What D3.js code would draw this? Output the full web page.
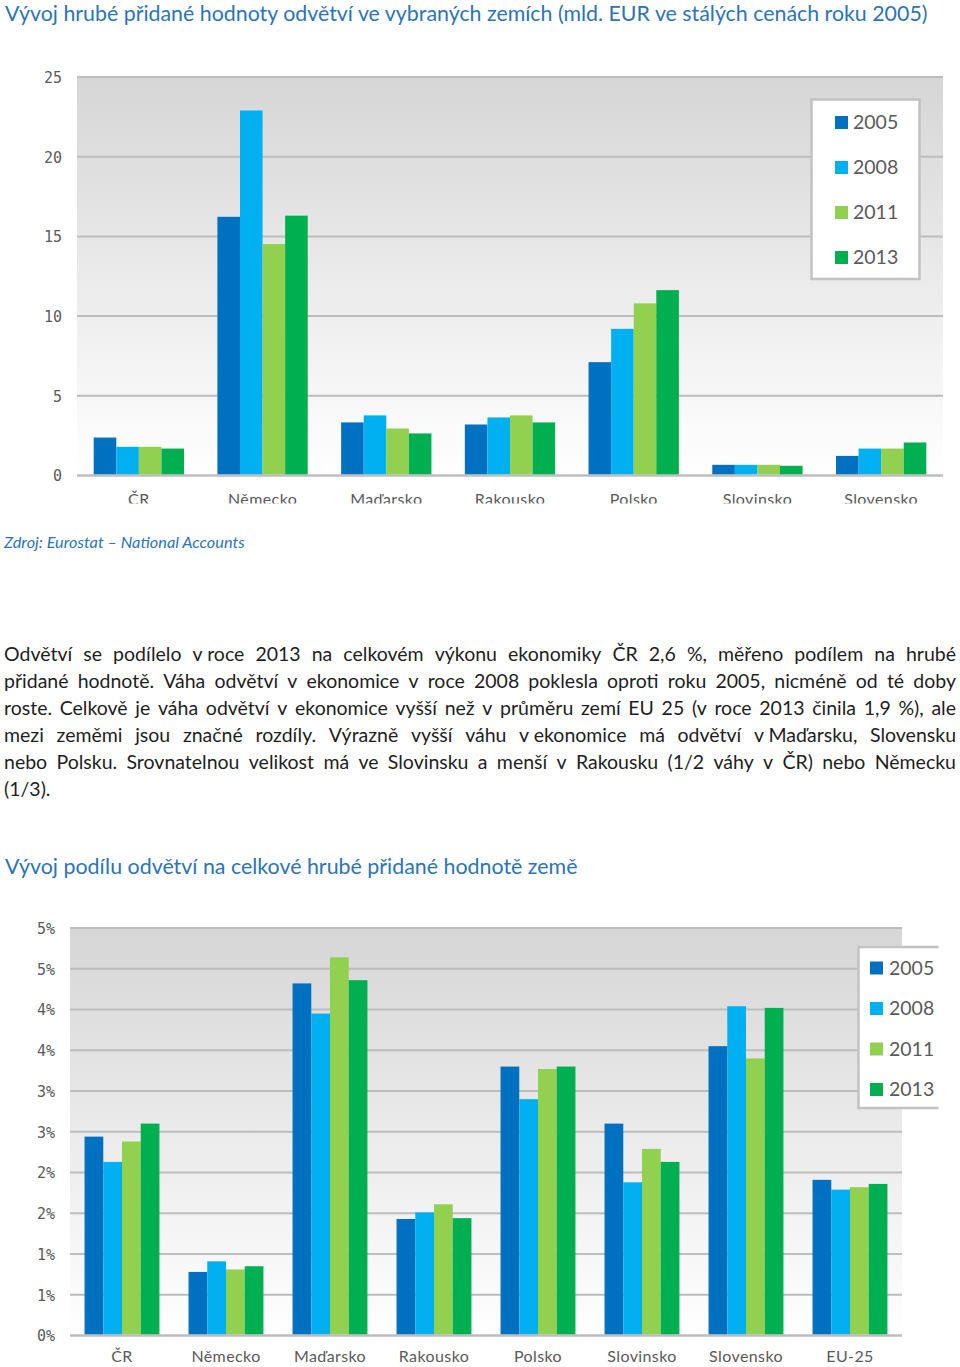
<!DOCTYPE html>
<html><head><meta charset="utf-8">
<script src="https://cdn.jsdelivr.net/npm/d3@7"></script>
<style>body{margin:0;background:#fff}svg{display:block}</style>
</head><body>
<svg id="c" width="960" height="1367"></svg>
<script>
// ---------- DATA ----------
const years = ["2005", "2008", "2011", "2013"];
const yearColors = ["#0070c0", "#00b0f0", "#92d050", "#00b050"];

const countries1 = ["ČR", "Německo", "Maďarsko", "Rakousko", "Polsko", "Slovinsko", "Slovensko"];
const gva2005 = [2.38, 16.23, 3.33, 3.20, 7.11, 0.67, 1.23];
const gva2008 = [1.80, 22.90, 3.77, 3.64, 9.20, 0.67, 1.69];
const gva2011 = [1.80, 14.52, 2.95, 3.77, 10.80, 0.67, 1.69];
const gva2013 = [1.69, 16.30, 2.64, 3.33, 11.63, 0.61, 2.07];
const ticks1 = [0, 5, 10, 15, 20, 25];
const tickLabels1 = ["0", "5", "10", "15", "20", "25"];

const countries2 = ["ČR", "Německo", "Maďarsko", "Rakousko", "Polsko", "Slovinsko", "Slovensko", "EU-25"];
const share2005 = [2.44, 0.78, 4.32, 1.43, 3.30, 2.60, 3.55, 1.91];
const share2008 = [2.13, 0.91, 3.95, 1.51, 2.90, 1.88, 4.04, 1.79];
const share2011 = [2.38, 0.81, 4.64, 1.61, 3.27, 2.29, 3.40, 1.82];
const share2013 = [2.60, 0.85, 4.36, 1.44, 3.30, 2.13, 4.02, 1.86];
const ticks2 = [0, 0.5, 1, 1.5, 2, 2.5, 3, 3.5, 4, 4.5, 5];
const tickLabels2 = ["0%", "1%", "1%", "2%", "2%", "3%", "3%", "4%", "4%", "5%", "5%"];

const title1 = "Vývoj hrubé přidané hodnoty odvětví ve vybraných zemích (mld. EUR ve stálých cenách roku 2005)";
const sourceText = "Zdroj: Eurostat – National Accounts";
const title2 = "Vývoj podílu odvětví na celkové hrubé přidané hodnotě země";
const paraLines = [
  "Odvětví se podílelo v\u00a0roce 2013 na celkovém výkonu ekonomiky ČR 2,6 %, měřeno podílem na hrubé",
  "přidané hodnotě. Váha odvětví v ekonomice v roce 2008 poklesla oproti roku 2005, nicméně od té doby",
  "roste. Celkově je váha odvětví v ekonomice vyšší než v průměru zemí EU 25 (v roce 2013 činila 1,9 %), ale",
  "mezi zeměmi jsou značné rozdíly. Výrazně vyšší váhu v\u00a0ekonomice má odvětví v\u00a0Maďarsku, Slovensku",
  "nebo Polsku. Srovnatelnou velikost má ve Slovinsku a menší v Rakousku (1/2 váhy v ČR) nebo Německu",
  "(1/3)."
];

// ---------- DRAW ----------
const svg = d3.select("#c");
const defs = svg.append("defs");
const grad = defs.append("linearGradient").attr("id", "bg").attr("x1", 0).attr("y1", 0).attr("x2", 0).attr("y2", 1);
grad.append("stop").attr("offset", "0%").attr("stop-color", "#d6d6d6");
grad.append("stop").attr("offset", "100%").attr("stop-color", "#ffffff");

const blue = "#2b74b6";
const textFont = "Lato, 'Open Sans', sans-serif";

function fitX(sel, x, target) {
  const w = sel.node().getComputedTextLength();
  const s = target / w;
  sel.attr("transform", `translate(${x},0) scale(${s},1) translate(${-x},0)`);
}

function drawChart(cfg) {
  const g = svg.append("g");
  const clipId = "clip" + cfg.id;
  defs.append("clipPath").attr("id", clipId).append("rect")
    .attr("x", 0).attr("y", cfg.yTop - 30).attr("width", 960).attr("height", cfg.clipY - cfg.yTop + 30);
  const cg = g.append("g").attr("clip-path", `url(#${clipId})`);

  const y = d3.scaleLinear().domain([0, cfg.max]).range([cfg.yBase, cfg.yTop]);
  const x = d3.scaleBand().domain(cfg.cats).range([cfg.x0, cfg.x1]).paddingInner(cfg.padIn).paddingOuter(cfg.padOut);
  const xs = d3.scaleBand().domain(years).range([0, x.bandwidth()]).padding(0);

  cg.append("rect").attr("x", cfg.x0).attr("y", cfg.yTop).attr("width", cfg.x1 - cfg.x0)
    .attr("height", cfg.yBase - cfg.yTop).attr("fill", "url(#bg)");

  // grid
  cg.selectAll(".grid").data(cfg.ticks).join("line")
    .attr("x1", cfg.x0).attr("x2", cfg.x1)
    .attr("y1", d => y(d)).attr("y2", d => y(d))
    .attr("stroke", "#bdbdbd").attr("stroke-width", 2);

  // y tick labels
  const yAxis = d3.axisLeft(y).tickValues(cfg.ticks).tickSize(0).tickPadding(0)
    .tickFormat((d, i) => cfg.tickLabels[i]);
  const ya = cg.append("g").attr("transform", `translate(${cfg.labelX},0)`).call(yAxis);
  ya.select(".domain").remove();
  ya.selectAll("text").attr("font-family", "'DejaVu Sans Mono', monospace").attr("font-size", cfg.tickSize)
    .attr("fill", "#5a5a5a").attr("dy", "0.36em");

  // bars
  const groups = cg.selectAll(".grp").data(cfg.rows).join("g")
    .attr("transform", d => `translate(${x(d.c)},0)`);
  groups.selectAll("rect").data(d => d.vals.map((v, i) => ({ v, yr: years[i], i }))).join("rect")
    .attr("x", d => xs(d.yr)).attr("width", xs.bandwidth())
    .attr("y", d => y(d.v)).attr("height", d => y(0) - y(d.v) - 1)
    .attr("fill", d => yearColors[d.i]);

  // baseline
  cg.append("line").attr("x1", cfg.x0).attr("x2", cfg.x1).attr("y1", y(0)).attr("y2", y(0))
    .attr("stroke", "#bdbdbd").attr("stroke-width", 2);

  // x labels
  const xAxis = d3.axisBottom(x).tickSize(0).tickPadding(0);
  const xa = cg.append("g").attr("transform", `translate(0,${cfg.xLabelBase})`).call(xAxis);
  xa.select(".domain").remove();
  xa.selectAll("text").attr("font-family", textFont).attr("font-size", 16).attr("fill", "#5a5a5a")
    .attr("letter-spacing", 0.4).attr("y", 0).attr("dy", 0);

  // legend
  const L = cfg.legend;
  const lg = g.append("g");
  lg.append("rect").attr("x", L.x).attr("y", L.y).attr("width", L.w).attr("height", L.h).attr("fill", "#fff");
  if (L.openRight) {
    lg.append("path").attr("d", `M${L.x + L.w},${L.y} H${L.x} V${L.y + L.h} H${L.x + L.w}`)
      .attr("fill", "none").attr("stroke", "#c2c2c2").attr("stroke-width", 2.5);
  } else {
    lg.append("rect").attr("x", L.x).attr("y", L.y).attr("width", L.w).attr("height", L.h)
      .attr("fill", "none").attr("stroke", "#c2c2c2").attr("stroke-width", 2.5);
  }
  const items = lg.selectAll(".it").data(years).join("g")
    .attr("transform", (d, i) => `translate(0,${L.base0 + i * L.step})`);
  items.append("rect").attr("x", L.swX).attr("y", -13).attr("width", 13).attr("height", 13)
    .attr("fill", (d, i) => yearColors[i]);
  items.append("text").attr("x", L.txX).attr("y", 0).text(d => d)
    .attr("font-family", textFont).attr("font-size", 19.5).attr("fill", "#5a5a5a");
}

const rows1 = countries1.map((c, i) => ({ c, vals: [gva2005[i], gva2008[i], gva2011[i], gva2013[i]] }));
const rows2 = countries2.map((c, i) => ({ c, vals: [share2005[i], share2008[i], share2011[i], share2013[i]] }));

drawChart({
  id: 1, rows: rows1, cats: countries1, max: 25, ticks: ticks1, tickLabels: tickLabels1,
  x0: 77, x1: 943, yTop: 77, yBase: 475.5, padIn: 0.27, padOut: 0.135,
  labelX: 62, tickSize: 15, xLabelBase: 505, clipY: 503.5,
  legend: { x: 811.5, y: 99.5, w: 108, h: 179.5, swX: 835, txX: 853, base0: 129, step: 45, openRight: false }
});

drawChart({
  id: 2, rows: rows2, cats: countries2, max: 5, ticks: ticks2, tickLabels: tickLabels2,
  x0: 70, x1: 902, yTop: 928, yBase: 1335.5, padIn: 0.28, padOut: 0.14,
  labelX: 55, tickSize: 15, xLabelBase: 1362, clipY: 1367,
  legend: { x: 858.5, y: 947, w: 80, h: 161, swX: 870, txX: 889, base0: 974.5, step: 40.5, openRight: true }
});

// titles
const t1 = svg.append("text").attr("x", 5).attr("y", 21).text(title1)
  .attr("font-family", textFont).attr("font-size", 22).attr("fill", blue);
fitX(t1, 5, 923);

const src = svg.append("text").attr("x", 4).attr("y", 548).text(sourceText)
  .attr("font-family", textFont).attr("font-style", "italic").attr("font-size", 15).attr("fill", blue);
fitX(src, 4, 241);

const t2 = svg.append("text").attr("x", 5).attr("y", 874).text(title2)
  .attr("font-family", textFont).attr("font-size", 22).attr("fill", blue);
fitX(t2, 5, 573);

// paragraph, justified
(function () {
  const pSize = 19.5, pX = 4, pW = 952, pY0 = 660.5, pLH = 27;
  const pg = svg.append("g").attr("font-family", textFont).attr("font-size", pSize).attr("fill", "#1e1e1e");
  const meas = pg.append("text");
  const wl = s => { meas.text(s); return meas.node().getComputedTextLength(); };
  const lines = paraLines.map(l => l.split(" ").map(w => ({ w, len: wl(w) })));
  const spaceW = wl("a a") - wl("aa");
  const minSp = spaceW * 0.9;
  const maxNat = d3.max(lines.slice(0, -1), ws => d3.sum(ws, d => d.len) + (ws.length - 1) * minSp);
  meas.remove();
  const sx = Math.min(1, pW / maxNat);
  const localW = pW / sx;
  const inner = pg.append("g").attr("transform", `translate(${pX},0) scale(${sx},1)`);
  lines.forEach((ws, li) => {
    const last = li === lines.length - 1;
    const sum = d3.sum(ws, d => d.len);
    const gap = (last || ws.length < 2) ? spaceW : (localW - sum) / (ws.length - 1);
    let cx = 0;
    const t = inner.append("text").attr("y", pY0 + li * pLH);
    ws.forEach(d => {
      t.append("tspan").attr("x", cx).text(d.w);
      cx += d.len + gap;
    });
  });
})();
</script>
</body></html>
